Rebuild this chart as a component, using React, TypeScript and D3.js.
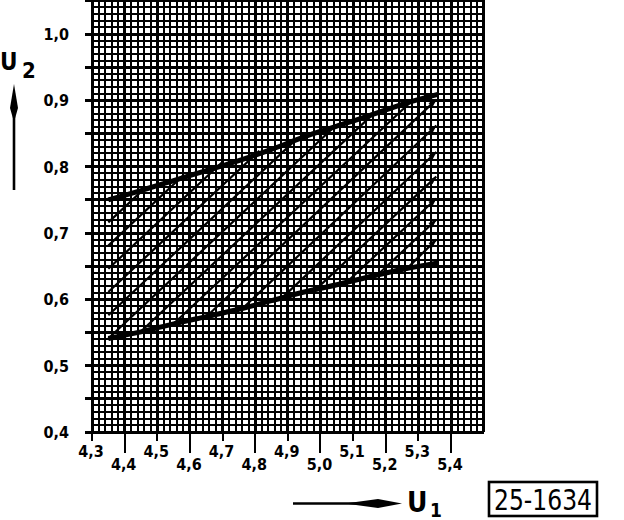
import React, { useRef, useEffect } from 'react';
import { select, scaleLinear, line, range, curveMonotoneX } from 'd3';

// axis ticks
const xTicks = [4.3, 4.4, 4.5, 4.6, 4.7, 4.8, 4.9, 5.0, 5.1, 5.2, 5.3, 5.4];
const xTickLabels = ['4,3', '4,4', '4,5', '4,6', '4,7', '4,8', '4,9', '5,0', '5,1', '5,2', '5,3', '5,4'];
const yTicks = [0.4, 0.5, 0.6, 0.7, 0.8, 0.9, 1.0];
const yTickLabels = ['0,4', '0,5', '0,6', '0,7', '0,8', '0,9', '1,0'];

// upper boundary curve
const upperU1 = [4.35, 4.45, 4.55, 4.65, 4.75, 4.85, 4.95, 5.05, 5.15, 5.25, 5.36];
const upperU2 = [0.750, 0.764, 0.779, 0.794, 0.809, 0.826, 0.845, 0.861, 0.877, 0.894, 0.909];

// lower boundary curve
const lowerU1 = [4.35, 4.45, 4.55, 4.65, 4.75, 4.85, 4.95, 5.05, 5.15, 5.25, 5.36];
const lowerU2 = [0.541, 0.551, 0.563, 0.574, 0.585, 0.598, 0.611, 0.622, 0.634, 0.645, 0.655];

// family of straight lines between the boundaries (start -> end)
const startU1 = [4.35, 4.35, 4.35, 4.35, 4.35, 4.35, 4.453, 4.554, 4.655, 4.765, 4.88, 4.986, 5.081, 5.173, 5.26];
const startU2 = [0.716, 0.681, 0.646, 0.611, 0.576, 0.541, 0.553, 0.565, 0.576, 0.588, 0.601, 0.615, 0.626, 0.636, 0.644];
const endU1 = [4.463, 4.58, 4.697, 4.813, 4.93, 5.047, 5.163, 5.28, 5.355, 5.355, 5.355, 5.355, 5.355, 5.355, 5.355];
const endU2 = [0.768, 0.787, 0.806, 0.824, 0.843, 0.862, 0.880, 0.899, 0.901, 0.862, 0.822, 0.785, 0.752, 0.720, 0.690];

const W = 624;
const H = 520;
const tickFont = '"DejaVu Sans Condensed", "DejaVu Sans", sans-serif';
const narrowFont = '"Liberation Sans Narrow", "DejaVu Sans Condensed", sans-serif';

const App: React.FC = () => {
  const svgRef = useRef<SVGSVGElement>(null);

  useEffect(() => {
    if (!svgRef.current) return;
    const svg = select(svgRef.current);
    svg.selectAll('*').remove();

    const x = scaleLinear().domain([4.3, 5.4]).range([92, 451]);
    const y = scaleLinear().domain([0.4, 1.0]).range([432, 34]);

    const xMax = 5.5;
    const yMax = 1.052;

    const grid = svg.append('g').attr('shape-rendering', 'crispEdges').attr('stroke', '#000');

    // vertical grid lines
    range(0, 61).map(i => 4.3 + i * 0.02).filter(v => v <= xMax + 1e-9).forEach((v, i) => {
      grid.append('line')
        .attr('x1', x(v)).attr('x2', x(v))
        .attr('y1', y(0.4)).attr('y2', y(yMax))
        .attr('stroke-width', i % 5 === 0 ? 3 : 2);
    });

    // horizontal grid lines, major ones every 0.05 reach out as ticks
    range(0, 66).map(i => 0.4 + i * 0.01).filter(v => v <= yMax).forEach((v, i) => {
      const major = i % 5 === 0;
      grid.append('line')
        .attr('x1', major ? 85 : x(4.3)).attr('x2', x(xMax))
        .attr('y1', y(v)).attr('y2', y(v))
        .attr('stroke-width', major ? 3 : 2);
    });

    // x ticks below the axis, alternating lengths
    xTicks.forEach((t, i) => {
      const low = i % 2 === 1;
      grid.append('line')
        .attr('x1', x(t)).attr('x2', x(t))
        .attr('y1', y(0.4)).attr('y2', y(0.4) + (low ? 21 : 9))
        .attr('stroke-width', 2);
      svg.append('text')
        .attr('x', x(t) - 1)
        .attr('y', y(0.4) + (low ? 38 : 25))
        .attr('text-anchor', 'middle')
        .attr('font-family', tickFont)
        .attr('font-weight', 'bold')
        .attr('font-size', 16)
        .text(xTickLabels[i]);
    });

    yTicks.forEach((t, i) => {
      svg.append('text')
        .attr('x', 69)
        .attr('y', y(t) + 6)
        .attr('text-anchor', 'end')
        .attr('font-family', tickFont)
        .attr('font-weight', 'bold')
        .attr('font-size', 16)
        .text(yTickLabels[i]);
    });

    // diagonal line family
    const family = svg.append('g');
    startU1.forEach((s, i) => {
      const x1 = x(s), y1 = y(startU2[i]), x2 = x(endU1[i]), y2 = y(endU2[i]);
      family.append('line')
        .attr('x1', x1).attr('y1', y1).attr('x2', x2).attr('y2', y2)
        .attr('stroke', '#000').attr('stroke-width', 2.2);
      if (endU1[i] >= 5.35) {
        const a = Math.atan2(y2 - y1, x2 - x1);
        const len = 8, hw = 3;
        const bx = x2 - len * Math.cos(a), by = y2 - len * Math.sin(a);
        const px = -Math.sin(a) * hw, py = Math.cos(a) * hw;
        family.append('polygon')
          .attr('points', `${x2},${y2} ${bx + px},${by + py} ${bx - px},${by - py}`)
          .attr('fill', '#000');
      }
    });

    // boundary curves
    const curve = line<[number, number]>()
      .x(d => x(d[0]))
      .y(d => y(d[1]))
      .curve(curveMonotoneX);

    svg.append('path')
      .attr('d', curve(upperU1.map((u, i) => [u, upperU2[i]] as [number, number])))
      .attr('fill', 'none').attr('stroke', '#000').attr('stroke-width', 5);
    svg.append('path')
      .attr('d', curve(lowerU1.map((u, i) => [u, lowerU2[i]] as [number, number])))
      .attr('fill', 'none').attr('stroke', '#000').attr('stroke-width', 5);

    // U2 label with upward arrow
    svg.append('text')
      .attr('x', 0).attr('y', 70)
      .attr('font-family', narrowFont).attr('font-weight', 'bold').attr('font-size', 24)
      .text('U');
    svg.append('text')
      .attr('x', 22).attr('y', 78)
      .attr('font-family', narrowFont).attr('font-weight', 'bold').attr('font-size', 22)
      .text('2');
    svg.append('line')
      .attr('x1', 14).attr('x2', 14).attr('y1', 190).attr('y2', 105)
      .attr('stroke', '#000').attr('stroke-width', 2.6);
    svg.append('polygon')
      .attr('points', '14,84 18,108 14,122 10,108')
      .attr('fill', '#000');

    // U1 label with right arrow
    svg.append('line')
      .attr('x1', 293).attr('x2', 360).attr('y1', 503.5).attr('y2', 503.5)
      .attr('stroke', '#000').attr('stroke-width', 2.6);
    svg.append('polygon')
      .attr('points', '345,503.5 378,499 402,503.5 378,508')
      .attr('fill', '#000');
    svg.append('text')
      .attr('x', 407).attr('y', 512)
      .attr('font-family', narrowFont).attr('font-weight', 'bold').attr('font-size', 28)
      .text('U');
    svg.append('text')
      .attr('x', 430).attr('y', 517)
      .attr('font-family', narrowFont).attr('font-weight', 'bold').attr('font-size', 19)
      .text('1');

    // figure number box
    svg.append('rect')
      .attr('x', 489).attr('y', 482).attr('width', 108).attr('height', 34)
      .attr('fill', 'none').attr('stroke', '#000').attr('stroke-width', 2.6);
    svg.append('text')
      .attr('x', 494).attr('y', 510)
      .attr('font-family', narrowFont).attr('font-size', 29)
      .attr('textLength', 98).attr('lengthAdjust', 'spacingAndGlyphs')
      .text('25-1634');
  }, []);

  return (
    <svg
      ref={svgRef}
      width={W}
      height={H}
      style={{ position: 'absolute', left: 0, top: 0, background: '#fff', display: 'block' }}
    />
  );
};

export default App;
